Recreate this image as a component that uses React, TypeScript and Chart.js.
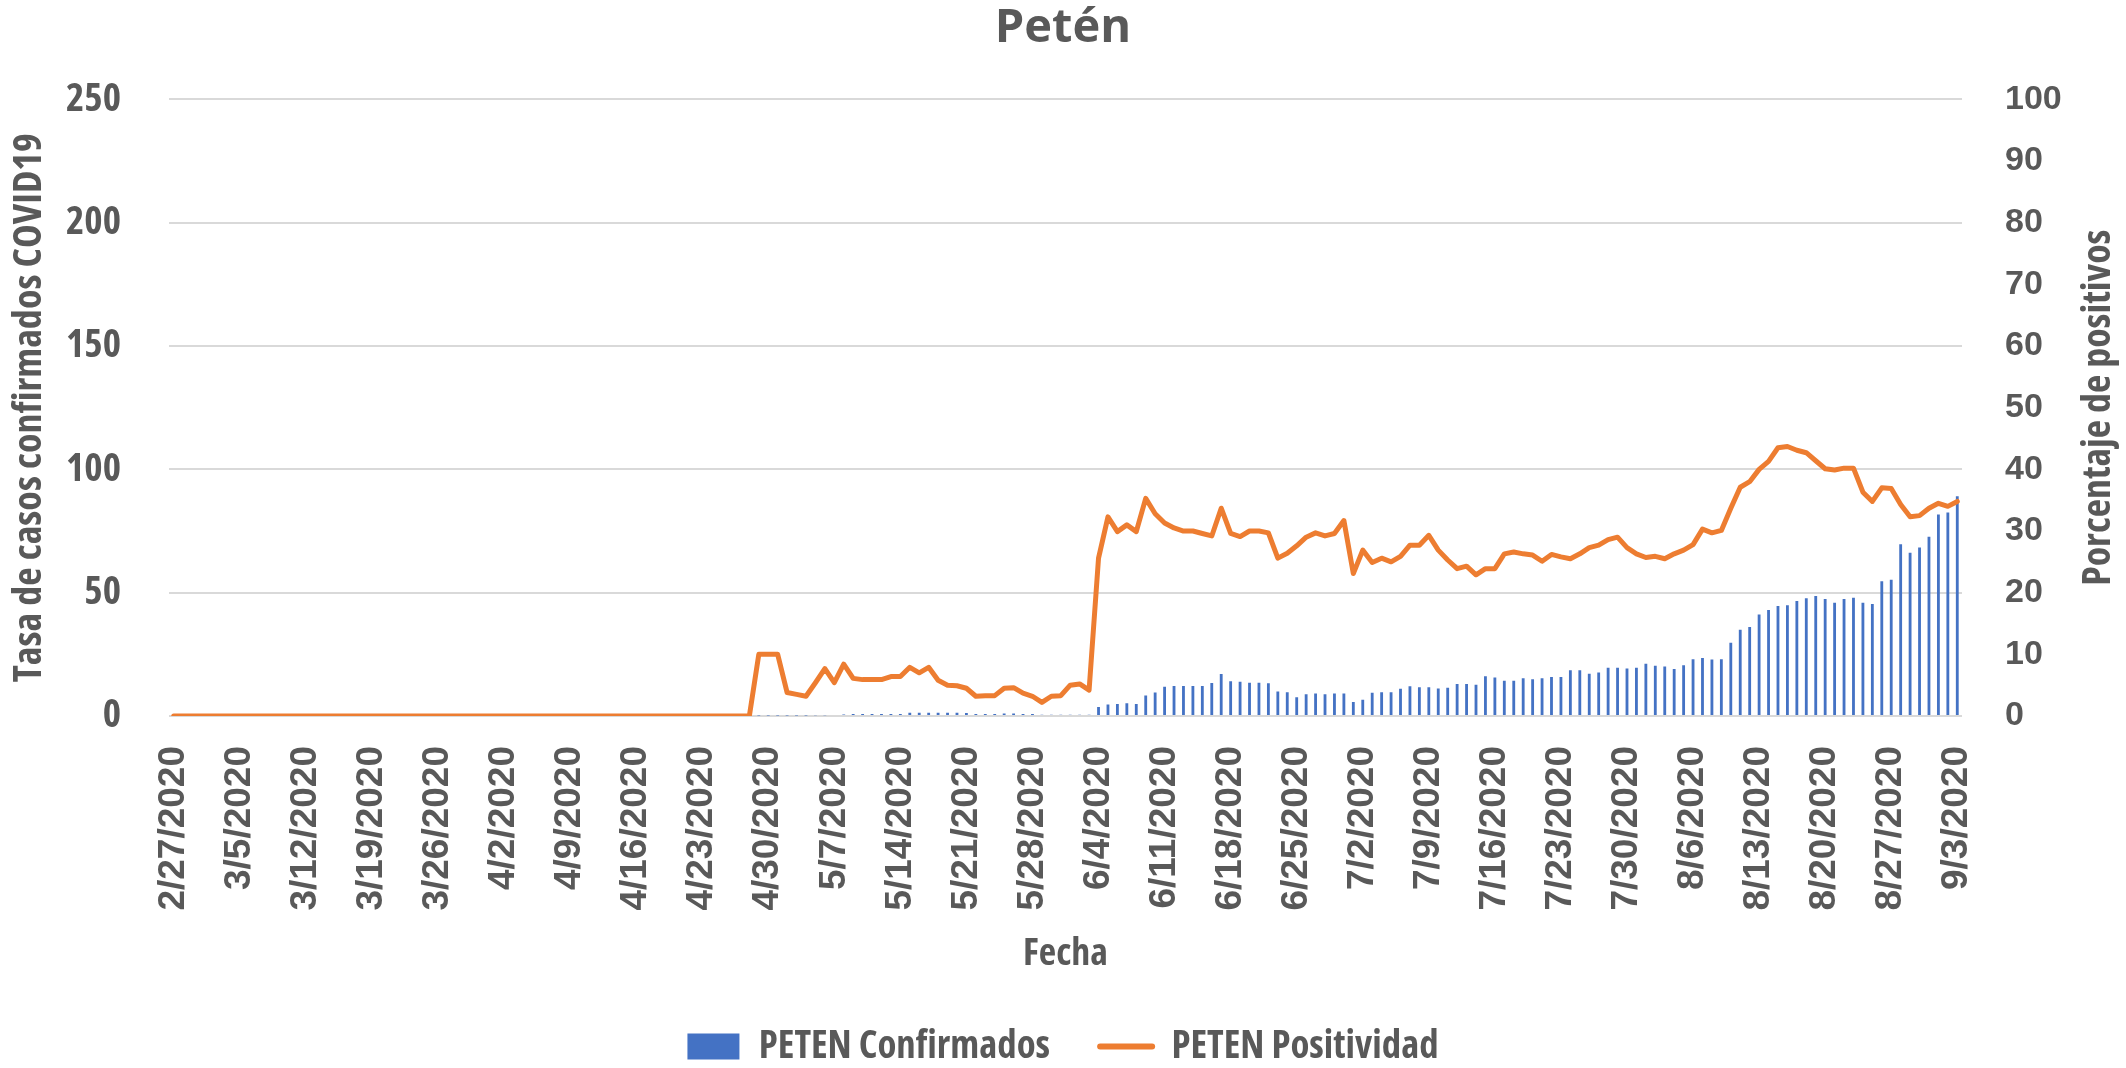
import React, { useEffect, useRef } from "react";
import { Chart, registerables } from "chart.js";

Chart.register(...registerables);

// ---------- data ----------
const fechas = [
  "2/27/2020", "2/28/2020", "2/29/2020",
  "3/1/2020", "3/2/2020", "3/3/2020", "3/4/2020", "3/5/2020", "3/6/2020", "3/7/2020", "3/8/2020", "3/9/2020", "3/10/2020",
  "3/11/2020", "3/12/2020", "3/13/2020", "3/14/2020", "3/15/2020", "3/16/2020", "3/17/2020", "3/18/2020", "3/19/2020", "3/20/2020",
  "3/21/2020", "3/22/2020", "3/23/2020", "3/24/2020", "3/25/2020", "3/26/2020", "3/27/2020", "3/28/2020", "3/29/2020", "3/30/2020", "3/31/2020",
  "4/1/2020", "4/2/2020", "4/3/2020", "4/4/2020", "4/5/2020", "4/6/2020", "4/7/2020", "4/8/2020", "4/9/2020", "4/10/2020",
  "4/11/2020", "4/12/2020", "4/13/2020", "4/14/2020", "4/15/2020", "4/16/2020", "4/17/2020", "4/18/2020", "4/19/2020", "4/20/2020",
  "4/21/2020", "4/22/2020", "4/23/2020", "4/24/2020", "4/25/2020", "4/26/2020", "4/27/2020", "4/28/2020", "4/29/2020", "4/30/2020",
  "5/1/2020", "5/2/2020", "5/3/2020", "5/4/2020", "5/5/2020", "5/6/2020", "5/7/2020", "5/8/2020", "5/9/2020", "5/10/2020",
  "5/11/2020", "5/12/2020", "5/13/2020", "5/14/2020", "5/15/2020", "5/16/2020", "5/17/2020", "5/18/2020", "5/19/2020", "5/20/2020",
  "5/21/2020", "5/22/2020", "5/23/2020", "5/24/2020", "5/25/2020", "5/26/2020", "5/27/2020", "5/28/2020", "5/29/2020", "5/30/2020", "5/31/2020",
  "6/1/2020", "6/2/2020", "6/3/2020", "6/4/2020", "6/5/2020", "6/6/2020", "6/7/2020", "6/8/2020", "6/9/2020", "6/10/2020",
  "6/11/2020", "6/12/2020", "6/13/2020", "6/14/2020", "6/15/2020", "6/16/2020", "6/17/2020", "6/18/2020", "6/19/2020", "6/20/2020",
  "6/21/2020", "6/22/2020", "6/23/2020", "6/24/2020", "6/25/2020", "6/26/2020", "6/27/2020", "6/28/2020", "6/29/2020", "6/30/2020",
  "7/1/2020", "7/2/2020", "7/3/2020", "7/4/2020", "7/5/2020", "7/6/2020", "7/7/2020", "7/8/2020", "7/9/2020", "7/10/2020",
  "7/11/2020", "7/12/2020", "7/13/2020", "7/14/2020", "7/15/2020", "7/16/2020", "7/17/2020", "7/18/2020", "7/19/2020", "7/20/2020",
  "7/21/2020", "7/22/2020", "7/23/2020", "7/24/2020", "7/25/2020", "7/26/2020", "7/27/2020", "7/28/2020", "7/29/2020", "7/30/2020", "7/31/2020",
  "8/1/2020", "8/2/2020", "8/3/2020", "8/4/2020", "8/5/2020", "8/6/2020", "8/7/2020", "8/8/2020", "8/9/2020", "8/10/2020",
  "8/11/2020", "8/12/2020", "8/13/2020", "8/14/2020", "8/15/2020", "8/16/2020", "8/17/2020", "8/18/2020", "8/19/2020", "8/20/2020",
  "8/21/2020", "8/22/2020", "8/23/2020", "8/24/2020", "8/25/2020", "8/26/2020", "8/27/2020", "8/28/2020", "8/29/2020", "8/30/2020", "8/31/2020",
  "9/1/2020", "9/2/2020", "9/3/2020",
];

const etiquetasEje = [
  "2/27/2020", "3/5/2020", "3/12/2020", "3/19/2020", "3/26/2020", "4/2/2020", "4/9/2020",
  "4/16/2020", "4/23/2020", "4/30/2020", "5/7/2020", "5/14/2020", "5/21/2020", "5/28/2020",
  "6/4/2020", "6/11/2020", "6/18/2020", "6/25/2020", "7/2/2020", "7/9/2020", "7/16/2020",
  "7/23/2020", "7/30/2020", "8/6/2020", "8/13/2020", "8/20/2020", "8/27/2020", "9/3/2020",
];

// Tasa de casos confirmados (eje izquierdo)
const petenConfirmados = [
  0, 0, 0, 0, 0, 0, 0, 0, 0, 0,
  0, 0, 0, 0, 0, 0, 0, 0, 0, 0,
  0, 0, 0, 0, 0, 0, 0, 0, 0, 0,
  0, 0, 0, 0, 0, 0, 0, 0, 0, 0,
  0, 0, 0, 0, 0, 0, 0, 0, 0, 0,
  0, 0, 0, 0, 0, 0, 0, 0, 0, 0,
  0, 0, 0.2, 0.2, 0.2, 0.2, 0.2, 0.2, 0.3, 0.3,
  0.4, 0.6, 0.8, 0.8, 0.8, 0.8, 0.8, 0.8, 1.3, 1.3,
  1.3, 1.3, 1.3, 1.3, 1.2, 0.8, 0.8, 0.8, 1.0, 1.0,
  0.8, 0.8, 0.5, 0.5, 0.5, 0.5, 0.5, 0.5, 3.6, 4.7,
  4.9, 5.2, 4.9, 8.3, 9.5, 11.9, 12.2, 12.2, 12.2, 12.2,
  13.4, 17.0, 14.1, 13.9, 13.5, 13.5, 13.3, 9.9, 9.6, 7.6,
  8.8, 9.1, 8.8, 9.1, 9.1, 5.7, 6.6, 9.4, 9.6, 9.6,
  11.0, 12.1, 11.7, 11.7, 11.2, 11.5, 13.0, 13.0, 12.7, 16.1,
  15.6, 14.3, 14.3, 15.3, 14.9, 15.3, 15.8, 15.8, 18.5, 18.5,
  17.1, 17.6, 19.6, 19.6, 19.3, 19.6, 21.2, 20.4, 20.1, 19.1,
  20.6, 23.0, 23.5, 22.9, 23.0, 29.7, 35.0, 36.1, 41.2, 43.0,
  44.6, 44.9, 46.6, 47.7, 48.7, 47.4, 45.9, 47.4, 47.9, 45.9,
  45.4, 54.6, 55.2, 69.6, 66.2, 68.3, 72.7, 81.7, 82.5, 89.1,
];

// Porcentaje de positivos (eje derecho)
const petenPositividad = [
  0, 0, 0, 0, 0, 0, 0, 0, 0, 0,
  0, 0, 0, 0, 0, 0, 0, 0, 0, 0,
  0, 0, 0, 0, 0, 0, 0, 0, 0, 0,
  0, 0, 0, 0, 0, 0, 0, 0, 0, 0,
  0, 0, 0, 0, 0, 0, 0, 0, 0, 0,
  0, 0, 0, 0, 0, 0, 0, 0, 0, 0,
  0, 0, 10, 10, 10, 3.8, 3.5, 3.2, 5.4, 7.7,
  5.4, 8.4, 6.1, 5.9, 5.9, 5.9, 6.4, 6.4, 7.9, 7.0,
  7.9, 5.8, 5.0, 4.9, 4.5, 3.2, 3.3, 3.3, 4.5, 4.6,
  3.7, 3.2, 2.2, 3.2, 3.3, 5.0, 5.2, 4.2, 25.6, 32.3,
  29.9, 31.0, 29.9, 35.3, 32.8, 31.3, 30.5, 30.0, 30.0, 29.6,
  29.2, 33.7, 29.6, 29.1, 30.0, 30.0, 29.7, 25.6, 26.4, 27.6,
  29.0, 29.7, 29.2, 29.6, 31.7, 23.1, 26.9, 24.9, 25.6, 25.0,
  25.9, 27.7, 27.7, 29.3, 26.9, 25.3, 23.9, 24.3, 22.9, 23.9,
  23.9, 26.3, 26.6, 26.3, 26.1, 25.1, 26.2, 25.8, 25.5, 26.3,
  27.3, 27.7, 28.6, 29.0, 27.3, 26.3, 25.7, 25.9, 25.5, 26.3,
  26.9, 27.8, 30.3, 29.7, 30.1, 33.7, 37.1, 38.0, 40.0, 41.3,
  43.5, 43.7, 43.1, 42.7, 41.4, 40.1, 39.9, 40.2, 40.2, 36.3,
  34.8, 37.0, 36.9, 34.3, 32.3, 32.5, 33.7, 34.5, 34.0, 34.8,
];

const TITULO = "Petén";
const TITULO_IZQ = "Tasa de casos confirmados COVID19";
const TITULO_DER = "Porcentaje de positivos";
const TITULO_X = "Fecha";
const SERIE_BARRAS = "PETEN Confirmados";
const SERIE_LINEA = "PETEN Positividad";

// ---------- style ----------
const W = 2126;
const H = 1076;
const BLUE = "#4472C4";
const ORANGE = "#ED7D31";
const TEXT = "#595959";
const GRID = "#D9D9D9";
const WIDE = '"Liberation Sans", Arial, sans-serif';
const TITLE_FONT = '"Open Sans", "Noto Sans", sans-serif';
const PLOT_LEFT = 169;
const PLOT_RIGHT_W = 164;
const PLOT_BOTTOM = 716;

type Cond = { family: string; weight: string };

// pick the narrowest-looking bold face that is actually installed
function pickCondensed(): Cond {
  const c = document.createElement("canvas").getContext("2d") as CanvasRenderingContext2D;
  const cands: Cond[] = [
    { family: '"Liberation Sans Narrow"', weight: "bold" },
    { family: '"Noto Sans"', weight: "bold extra-condensed" },
    { family: '"Noto Sans"', weight: "bold condensed" },
    { family: '"Noto Sans"', weight: "bold semi-condensed" },
    { family: '"Open Sans"', weight: "bold condensed" },
    { family: '"DejaVu Sans Condensed"', weight: "bold" },
    { family: '"DejaVu Sans"', weight: "bold condensed" },
    { family: "Roboto", weight: "bold condensed" },
    { family: '"Liberation Sans"', weight: "bold" },
  ];
  let best: Cond = { family: '"Liberation Sans"', weight: "bold" };
  let bestErr = Infinity;
  for (const cd of cands) {
    c.font = "10px serif";
    c.font = `${cd.weight} 100px ${cd.family}, monospace`;
    if (c.font === "10px serif") continue;
    const w1 = c.measureText(TITULO_IZQ).width;
    c.font = `${cd.weight} 100px ${cd.family}, serif`;
    const w2 = c.measureText(TITULO_IZQ).width;
    if (Math.abs(w1 - w2) > 0.5) continue;
    const cap = c.measureText("H").actualBoundingBoxAscent || 72;
    const width = (w2 * (30 / cap) * 100) / 100;
    const err = Math.abs(width - 549);
    if (err < bestErr) {
      bestErr = err;
      best = cd;
    }
  }
  return best;
}

function sizeFor(cd: Cond, text: string, target: number): number {
  const c = document.createElement("canvas").getContext("2d") as CanvasRenderingContext2D;
  c.font = `${cd.weight} 100px ${cd.family}`;
  const w = c.measureText(text).width || 1;
  return Math.round((target / w) * 100 * 10) / 10;
}

export default function App() {
  const canvasRef = useRef<HTMLCanvasElement | null>(null);

  useEffect(() => {
    const canvas = canvasRef.current;
    if (!canvas) return;

    const cond = pickCondensed();
    const fam = `${cond.family}, "Liberation Sans", sans-serif`;
    const sLeftTitle = sizeFor(cond, TITULO_IZQ, 549);
    const sRightTitle = sizeFor(cond, TITULO_DER, 356);
    const sX = sizeFor(cond, TITULO_X, 85);
    const sLegend = sizeFor(cond, SERIE_BARRAS, 291);
    const sLeftTick = sizeFor(cond, "250", 55);
    const itemH = Math.max(sLegend, 26);
    const legendH = itemH + 50 + 10;
    const xAxisH = H - legendH - PLOT_BOTTOM;

    const rightTitlePlugin = {
      id: "rightTitle",
      afterDraw(chart: any) {
        const { ctx, chartArea } = chart;
        const s = chart.scales.y1;
        ctx.save();
        ctx.translate(s.right - 27, (chartArea.top + chartArea.bottom) / 2);
        ctx.rotate(-Math.PI / 2);
        ctx.font = `${cond.weight} ${sRightTitle}px ${fam}`;
        ctx.fillStyle = TEXT;
        ctx.textAlign = "center";
        ctx.textBaseline = "middle";
        ctx.fillText(TITULO_DER, 0, 0);
        ctx.restore();
      },
    };

    const chart = new Chart(canvas, {
      data: {
        labels: fechas,
        datasets: [
          {
            type: "bar",
            label: SERIE_BARRAS,
            data: petenConfirmados,
            yAxisID: "y",
            backgroundColor: BLUE,
            borderWidth: 0,
            barPercentage: 0.3,
            categoryPercentage: 1.0,
            order: 1,
          } as any,
          {
            type: "line",
            label: SERIE_LINEA,
            data: petenPositividad,
            yAxisID: "y1",
            borderColor: ORANGE,
            backgroundColor: ORANGE,
            borderWidth: 5,
            pointRadius: 0,
            tension: 0,
            fill: false,
            borderJoinStyle: "round",
            borderCapStyle: "round",
            order: 0,
          } as any,
        ],
      },
      options: {
        responsive: false,
        maintainAspectRatio: false,
        animation: false,
        devicePixelRatio: 1,
        events: [],
        layout: { padding: 0 },
        plugins: {
          title: {
            display: true,
            text: TITULO,
            color: TEXT,
            font: { family: TITLE_FONT, size: 47, weight: "bold", lineHeight: 1.2 },
            padding: { top: 0, bottom: 43 },
          },
          legend: {
            display: true,
            position: "bottom",
            labels: {
              usePointStyle: true,
              pointStyleWidth: 52,
              boxHeight: 26,
              padding: 50,
              color: TEXT,
              font: { family: fam, size: sLegend, weight: cond.weight },
              generateLabels: (ch: any) =>
                ch.data.datasets.map((ds: any, i: number) => ({
                  text: ds.label,
                  datasetIndex: i,
                  hidden: false,
                  fontColor: TEXT,
                  fillStyle: ds.type === "bar" ? ds.backgroundColor : ds.borderColor,
                  strokeStyle: ds.type === "bar" ? ds.backgroundColor : ds.borderColor,
                  lineWidth: ds.type === "bar" ? 0 : 6,
                  lineCap: "round",
                  pointStyle: ds.type === "bar" ? "rect" : "line",
                  rotation: 0,
                })),
            },
          },
          tooltip: { enabled: false },
        },
        scales: {
          x: {
            type: "category",
            grid: { display: false, drawTicks: false },
            border: { display: false },
            ticks: {
              autoSkip: false,
              minRotation: 90,
              maxRotation: 90,
              padding: 30,
              color: TEXT,
              font: { family: WIDE, size: 37, weight: "bold" },
              callback: (_v: any, i: number) =>
                etiquetasEje.includes(fechas[i]) ? fechas[i] : "",
            },
            title: {
              display: true,
              text: TITULO_X,
              color: TEXT,
              font: { family: fam, size: sX, weight: cond.weight, lineHeight: 1.2 },
              padding: { top: 0, bottom: Math.max(0, xAxisH - (955 - PLOT_BOTTOM) - sX * 0.6) },
            },
            afterFit: (s: any) => {
              s.height = xAxisH;
            },
          },
          y: {
            position: "left",
            min: 0,
            max: 250,
            grid: { color: GRID, lineWidth: 2, drawTicks: false },
            border: { display: false },
            ticks: {
              stepSize: 50,
              padding: 48,
              color: TEXT,
              font: { family: fam, size: sLeftTick, weight: cond.weight },
            },
            title: {
              display: true,
              text: TITULO_IZQ,
              color: TEXT,
              font: { family: fam, size: sLeftTitle, weight: cond.weight, lineHeight: 1.2 },
              padding: { top: Math.max(0, 30 - sLeftTitle * 0.6), bottom: 0 },
            },
            afterFit: (s: any) => {
              s.width = PLOT_LEFT;
            },
          },
          y1: {
            position: "right",
            min: 0,
            max: 100,
            grid: { display: false, drawTicks: false },
            border: { display: false },
            ticks: {
              stepSize: 10,
              padding: 43,
              color: TEXT,
              font: { family: WIDE, size: 34, weight: "bold" },
            },
            afterFit: (s: any) => {
              s.width = PLOT_RIGHT_W;
            },
          },
        },
      } as any,
      plugins: [rightTitlePlugin],
    } as any);
    return () => chart.destroy();
  }, []);

  return (
    <div style={{ position: "fixed", left: 0, top: 0, width: W, height: H, background: "#fff" }}>
      <canvas ref={canvasRef} width={W} height={H} style={{ display: "block" }} />
    </div>
  );
}
